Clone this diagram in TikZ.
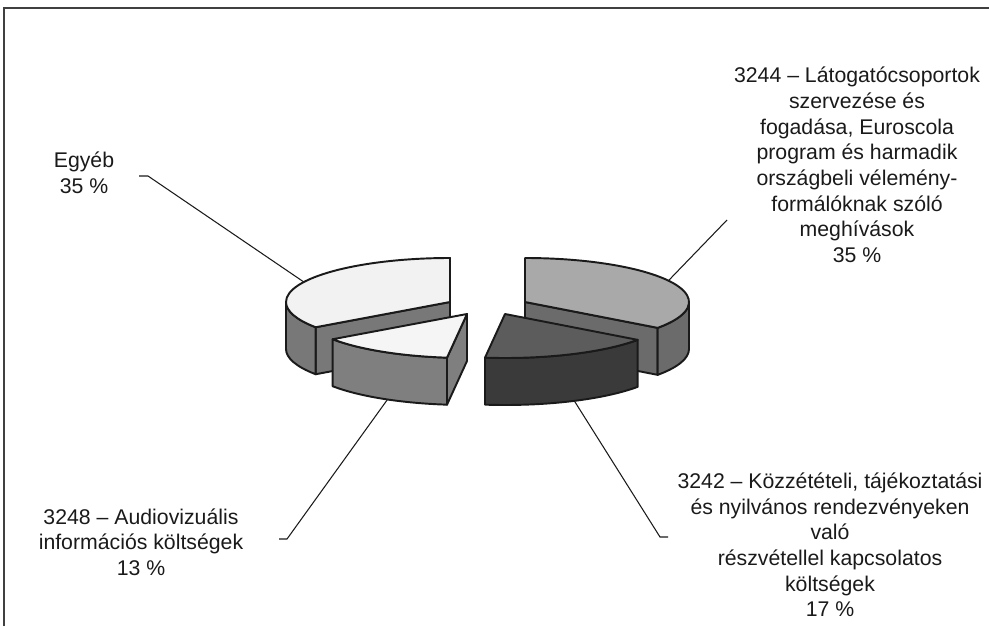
\documentclass[tikz,border=0pt]{standalone}
\usepackage{fontspec}
\setmainfont{Liberation Sans}
\usetikzlibrary{calc}
\definecolor{1a1a1a}{HTML}{1a1a1a}
\definecolor{f2f2f2}{HTML}{f2f2f2}
\definecolor{787878}{HTML}{787878}
\definecolor{a9a9a9}{HTML}{a9a9a9}
\definecolor{6b6b6b}{HTML}{6b6b6b}
\definecolor{5c5c5c}{HTML}{5c5c5c}
\definecolor{3a3a3a}{HTML}{3a3a3a}
\definecolor{f5f5f5}{HTML}{f5f5f5}
\definecolor{7f7f7f}{HTML}{7f7f7f}
\tikzset{
  pie/.style={draw=1a1a1a,line width=1.1pt,line join=round},
  leader/.style={draw=1a1a1a,line width=.6pt},
  lbl/.style={align=center,text=1a1a1a,font=\fontsize{12.1}{14.6}\selectfont}
}
\begin{document}
\begin{tikzpicture}[x=.02cm,y=.02cm,x radius=164,y radius=44]
    \newcommand{\HH}{47}
    \useasboundingbox(0,0)rectangle(989,626);
    \draw[black!75,line width=.6pt](4,0)--(4,618)--(989,618);
    \coordinate(E)at(450,324);
    \coordinate(L)at(525,324);
    \coordinate(K)at(505,312);
    \coordinate(A)at(467,312);
    \filldraw[pie,fill=787878](E)--($(E)+(215:164 and 44)$)--++(0,-\HH)--($(E)+(0,-\HH)$)--cycle;
    \filldraw[pie,fill=787878]($(E)+(180:164 and 44)$)arc[start angle=180,end angle=215]--++(0,-\HH)arc[start angle=215,end angle=180]--cycle;
    \filldraw[pie,fill=f2f2f2](E)--++(0,44)arc[start angle=90,end angle=215]--cycle;
    \filldraw[pie,fill=6b6b6b](L)--($(L)+(-36:164 and 44)$)--++(0,-\HH)--($(L)+(0,-\HH)$)--cycle;
    \filldraw[pie,fill=6b6b6b]($(L)+(-36:164 and 44)$)arc[start angle=-36,end angle=0]--++(0,-\HH)arc[start angle=0,end angle=-36]--cycle;
    \filldraw[pie,fill=a9a9a9](L)--($(L)+(-36:164 and 44)$)arc[start angle=-36,end angle=90]--cycle;
    \filldraw[pie,fill=7f7f7f](A)--($(A)+(263:164 and 44)$)--++(0,-\HH)--($(A)+(0,-\HH)$)--cycle;
    \filldraw[pie,fill=7f7f7f]($(A)+(215:164 and 44)$)arc[start angle=215,end angle=263]--++(0,-\HH)arc[start angle=263,end angle=215]--cycle;
    \filldraw[pie,fill=f5f5f5](A)--($(A)+(215:164 and 44)$)arc[start angle=215,end angle=263]--cycle;
    \filldraw[pie,fill=3a3a3a]($(K)+(263:164 and 44)$)arc[start angle=263,end angle=324]--++(0,-\HH)arc[start angle=324,end angle=263]--cycle;
    \filldraw[pie,fill=5c5c5c](K)--($(K)+(263:164 and 44)$)arc[start angle=263,end angle=324]--cycle;
    \node[lbl](egyeb)at(84,453){Egyéb\\35 \%};
    \node[lbl](latogato)at(857,461){3244 – Látogatócsoportok\\szervezése és\\fogadása, Euroscola\\program és harmadik\\országbeli vélemény-\\formálóknak szóló\\meghívások\\35 \%};
    \node[lbl](kozzetetel)at(830,81){3242 – Közzétételi, tájékoztatási\\és nyilvános rendezvényeken\\való\\részvétellel kapcsolatos\\költségek\\17 \%};
    \node[lbl](audio)at(141,84){3248 – Audiovizuális\\információs költségek\\13 \%};
    \coordinate(e1)at($(E)+(153:164 and 44)$);
    \coordinate(e2)at(148,450);
    \coordinate(e3)at(139,450);
    \coordinate(l1)at($(L)+(29:164 and 44)$);
    \coordinate(l2)at(727,406);
    \coordinate(a1)at($(A)+(0,-\HH)+(241:164 and 44)$);
    \coordinate(a2)at(287,87);
    \coordinate(a3)at(279,87);
    \coordinate(k1)at($(K)+(0,-\HH)+(295:164 and 44)$);
    \coordinate(k2)at(660,89);
    \coordinate(k3)at(668,89);
    \draw[leader](e1)--(e2)--(e3);
    \draw[leader](l1)--(l2);
    \draw[leader](a1)--(a2)--(a3);
    \draw[leader](k1)--(k2)--(k3);
\end{tikzpicture}
\end{document}
